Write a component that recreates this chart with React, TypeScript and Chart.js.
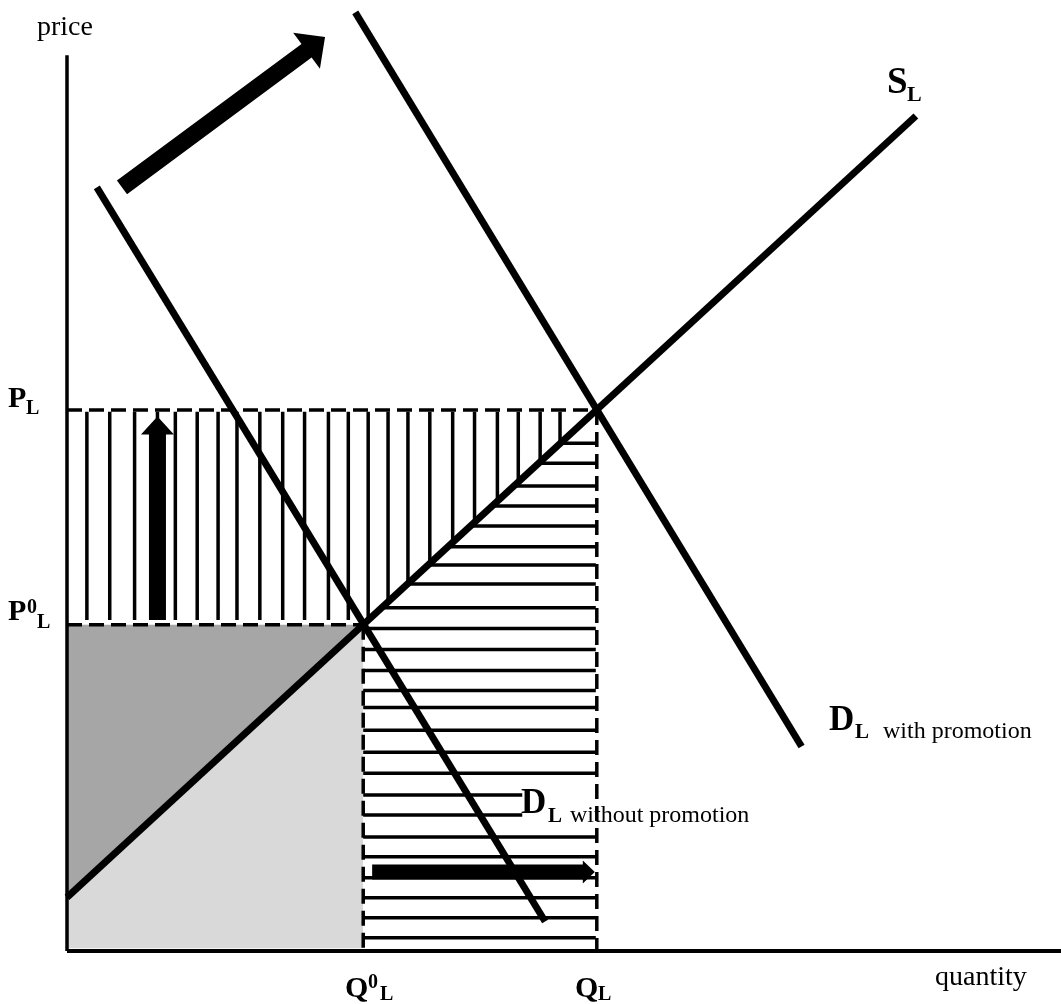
import React, { useEffect, useRef } from "react";
import { Chart, registerables } from "chart.js";
Chart.register(...registerables);

// Key equilibrium values (quantity on x, price on y, both 0..100)
const Q0 = 29.8;
const QL = 53.3;
const P0 = 34.3;
const PL = 56.9;
const yAxisTop = 94.2;

// Curves (end points)
const supplyLine = [
  { x: 0, y: 5.64 },
  { x: 85.4, y: 87.8 },
];
const demandWithout = [
  { x: 3.0, y: 80.3 },
  { x: 48.1, y: 3.1 },
];
const demandWith = [
  { x: 29.0, y: 98.7 },
  { x: 73.9, y: 21.5 },
];

// Hatching positions
const verticalHatchX = [2.0, 4.3, 6.8, 9.1, 10.9, 13.1, 15.2, 17.1, 19.4, 21.7, 23.9, 26.3, 28.3, 30.3, 32.3, 34.3, 36.5, 38.8, 41.0, 43.3, 45.4, 47.6, 49.6];
const horizontalHatchY = [53.4, 51.3, 48.9, 46.8, 44.7, 42.5, 40.6, 38.6, 36.1, 33.9, 31.7, 29.5, 27.4, 25.6, 23.2, 20.9, 18.7, 16.4, 14.3, 12.0, 9.9, 7.7, 5.6, 3.5, 1.4];
const hatchCutByLabelY = [16.4, 14.3];
const hatchCutEndX = 45.8;
const hatchTopY = 56.7;
const hatchLeftBottomY = 34.8;
const hatchRightEndX = 53.2;

// Arrows: [tail, tip]
const arrowDemandShift = [
  { x: 5.53, y: 80.3 },
  { x: 25.96, y: 96.1 },
];
const arrowPriceRise = [
  { x: 9.1, y: 34.8 },
  { x: 9.1, y: 56.2 },
];
const arrowQuantityRise = [
  { x: 30.7, y: 8.3 },
  { x: 53.1, y: 8.3 },
];

const supplyAt = (u: number) => {
  const [a, b] = supplyLine;
  return a.y + ((b.y - a.y) / (b.x - a.x)) * (u - a.x);
};
const supplyInv = (v: number) => {
  const [a, b] = supplyLine;
  return a.x + ((b.x - a.x) / (b.y - a.y)) * (v - a.y);
};

function segs(list: number[][]) {
  const d: any[] = [];
  for (const [x1, y1, x2, y2] of list) {
    d.push({ x: x1, y: y1 }, { x: x2, y: y2 }, { x: x2, y: null });
  }
  return d;
}

const base = {
  pointRadius: 0,
  pointHoverRadius: 0,
  fill: false,
  clip: false as any,
  borderColor: "#000",
  tension: 0,
  borderCapStyle: "butt" as const,
  spanGaps: false,
};

const overlay = {
  id: "overlay",
  afterDatasetsDraw(chart: any) {
    const { ctx, scales } = chart;
    const sx = scales.x;
    const sy = scales.y;
    const px = (v: number) => sx.getPixelForValue(v);
    const py = (v: number) => sy.getPixelForValue(v);
    ctx.save();
    ctx.fillStyle = "#000";
    const drawArrow = (pts: { x: number; y: number }[], shaft: number, headW: number, headL: number) => {
      const x1 = px(pts[0].x), y1 = py(pts[0].y), x2 = px(pts[1].x), y2 = py(pts[1].y);
      const dx = x2 - x1, dy = y2 - y1;
      const len = Math.hypot(dx, dy);
      const ux = dx / len, uy = dy / len;
      const nx = -uy, ny = ux;
      const bx = x2 - ux * headL, by = y2 - uy * headL;
      ctx.beginPath();
      ctx.moveTo(x1 + (nx * shaft) / 2, y1 + (ny * shaft) / 2);
      ctx.lineTo(bx + (nx * shaft) / 2, by + (ny * shaft) / 2);
      ctx.lineTo(bx + (nx * headW) / 2, by + (ny * headW) / 2);
      ctx.lineTo(x2, y2);
      ctx.lineTo(bx - (nx * headW) / 2, by - (ny * headW) / 2);
      ctx.lineTo(bx - (nx * shaft) / 2, by - (ny * shaft) / 2);
      ctx.lineTo(x1 - (nx * shaft) / 2, y1 - (ny * shaft) / 2);
      ctx.closePath();
      ctx.fill();
    };
    drawArrow(arrowDemandShift, 17, 45, 23);
    drawArrow(arrowPriceRise, 17, 33, 18);
    drawArrow(arrowQuantityRise, 15, 23, 12);

    const serif = '"Liberation Serif", "Times New Roman", serif';
    const t = (s: string, x: number, y: number, size: number, bold = false) => {
      ctx.font = `${bold ? "bold " : ""}${size}px ${serif}`;
      ctx.textAlign = "left";
      ctx.textBaseline = "alphabetic";
      ctx.fillText(s, x, y);
    };
    t("price", 37, 35, 28);
    t("quantity", 935, 985, 28);
    // P_L
    t("P", 8, 407, 30, true);
    t("L", 26, 414, 20, true);
    // P0_L
    t("P", 8, 620, 30, true);
    t("0", 27, 613, 20, true);
    t("L", 37, 628, 20, true);
    // Q0_L
    t("Q", 345, 997, 30, true);
    t("0", 368, 988, 20, true);
    t("L", 380, 1000, 20, true);
    // Q_L
    t("Q", 575, 997, 30, true);
    t("L", 598, 1000, 20, true);
    // S_L
    t("S", 887, 93, 37, true);
    t("L", 907, 101, 22, true);
    // D_L with promotion
    t("D", 829, 730, 35, true);
    t("L", 855, 738, 21, true);
    t("with promotion", 883, 738, 24);
    // D_L without promotion
    t("D", 521, 813, 35, true);
    t("L", 548, 822, 21, true);
    t("without promotion", 570, 822, 24);
    ctx.restore();
  },
};

export default function App() {
  const ref = useRef<HTMLCanvasElement>(null);
  useEffect(() => {
    const vHatch = verticalHatchX.map((u) => [u, hatchTopY, u, u < Q0 ? hatchLeftBottomY : supplyAt(u)]);
    const hHatch = horizontalHatchY.map((v) => [
      v > P0 ? supplyInv(v) : Q0,
      v,
      hatchCutByLabelY.includes(v) ? hatchCutEndX : hatchRightEndX,
      v,
    ]);
    const supplyLeft = [supplyLine[0], { x: Q0, y: supplyAt(Q0) }];

    const chart = new Chart(ref.current as HTMLCanvasElement, {
      type: "line",
      data: {
        datasets: [
          // fills
          { ...base, data: supplyLeft, borderWidth: 0, backgroundColor: "#a6a6a6", fill: { value: P0 }, order: 20 } as any,
          { ...base, data: supplyLeft, borderWidth: 0, backgroundColor: "#d9d9d9", fill: { value: 0.3 }, order: 21 } as any,
          // hatching
          { ...base, data: segs(vHatch), borderWidth: 3.5, order: 12 },
          { ...base, data: segs(hHatch), borderWidth: 3.5, order: 12 },
          // dashed guide lines
          {
            ...base,
            data: segs([
              [0, PL, QL, PL],
              [0, P0, Q0, P0],
              [QL, PL, QL, 0],
              [Q0, P0, Q0, 0],
            ]),
            borderWidth: 3.5,
            borderDash: [15, 7],
            order: 10,
          },
          // curves
          { ...base, data: supplyLine, borderWidth: 7, order: 5 },
          { ...base, data: demandWithout, borderWidth: 7, order: 5 },
          { ...base, data: demandWith, borderWidth: 7, order: 5 },
          // axes
          {
            ...base,
            data: segs([
              [0, yAxisTop, 0, 0],
            ]),
            borderWidth: 3.5,
            order: 4,
          },
          {
            ...base,
            data: segs([
              [0, 0, 100, 0],
            ]),
            borderWidth: 4,
            order: 4,
          },
        ],
      },
      options: {
        animation: false,
        responsive: false,
        devicePixelRatio: 1,
        layout: { padding: { left: 67, right: 0, top: 0, bottom: 53 } },
        plugins: { legend: { display: false }, tooltip: { enabled: false }, title: { display: false } },
        events: [],
        scales: {
          x: { type: "linear", min: 0, max: 100, display: false },
          y: { type: "linear", min: 0, max: 100, display: false },
        },
      },
      plugins: [overlay],
    });
    return () => chart.destroy();
  }, []);
  return (
    <div style={{ position: "fixed", left: 0, top: 0, width: 1061, height: 1004, background: "#fff" }}>
      <canvas ref={ref} width={1061} height={1004} style={{ display: "block" }} />
    </div>
  );
}
